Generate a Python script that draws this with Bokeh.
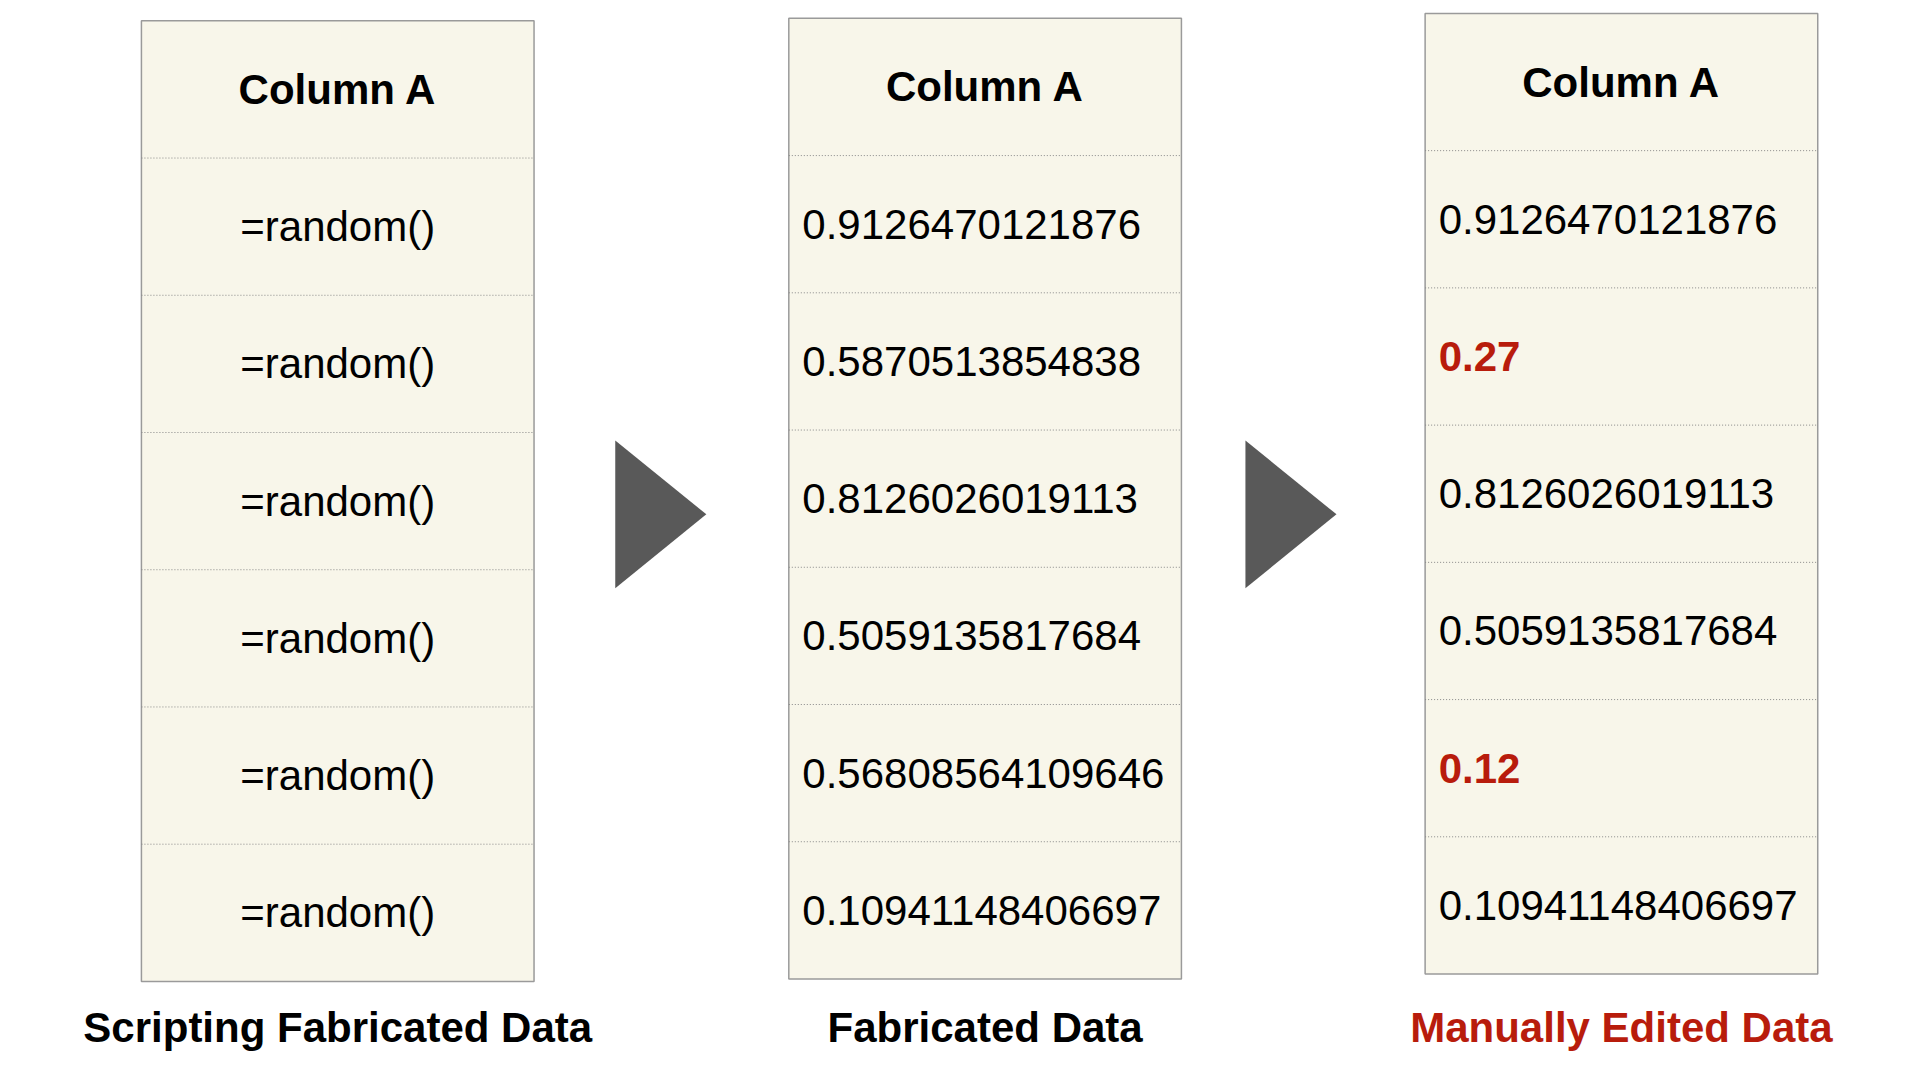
from bokeh.plotting import figure
from bokeh.models import Range1d, ColumnDataSource
from bokeh.core.properties import value
from bokeh.embed import file_html
from bokeh.resources import INLINE

header = "Column A"
col1 = ["=random()"] * 6
col2 = ["0.9126470121876", "0.5870513854838", "0.8126026019113",
        "0.5059135817684", "0.56808564109646", "0.10941148406697"]
col3 = ["0.9126470121876", "0.27", "0.8126026019113",
        "0.5059135817684", "0.12", "0.10941148406697"]
edited = [False, True, False, False, True, False]
labels = ["Scripting Fabricated Data", "Fabricated Data", "Manually Edited Data"]
label_colors = ["#000000", "#000000", "#b81c0c"]

p = figure(width=1904, height=1064, output_backend="svg", toolbar_location=None,
           x_range=Range1d(6.5, 1553.5), y_range=Range1d(871, 6.5), min_border=0)
p.axis.visible = False
p.grid.visible = False
p.outline_line_color = None

tables = [(121, 23, col1, "center"), (647, 21, col2, "left"), (1164, 17, col3, "left")]
tw, rh = 319, 111.5
font = value("Liberation Sans")
fs = "42px"
for ti, (x0, y0, cells, align) in enumerate(tables):
    p.quad(left=[x0], right=[x0 + tw], top=[y0], bottom=[y0 + rh * 7],
           fill_color="#f8f6ea", line_color="#9a9a9a", line_width=1.5)
    for r in range(1, 7):
        p.line([x0, x0 + tw], [y0 + rh * r] * 2, line_color="#888888",
               line_dash="1 2", line_width=1)
    p.text([x0 + tw / 2], [y0 + rh / 2], text=[header], text_font=font,
           text_font_style="bold", text_font_size=fs, text_align="center",
           text_baseline="middle", text_color="#000000")
    xs = [x0 + tw / 2 if align == "center" else x0 + 11] * 6
    ys = [y0 + rh * (i + 1.5) for i in range(6)]
    colors = ["#b81c0c" if (ti == 2 and edited[i]) else "#000000" for i in range(6)]
    styles = ["bold" if (ti == 2 and edited[i]) else "normal" for i in range(6)]
    src = ColumnDataSource(dict(x=xs, y=ys, t=cells, c=colors, s=styles))
    p.text("x", "y", text="t", source=src, text_font=font, text_font_size=fs,
           text_align=align, text_baseline="middle", text_color="c", text_font_style="s")
    p.text([x0 + tw / 2], [841], text=[labels[ti]], text_font=font,
           text_font_style="bold", text_font_size=fs, text_align="center",
           text_baseline="middle", text_color=label_colors[ti])

for tx in [506, 1018]:
    p.patch([tx, tx, tx + 74], [364, 484, 424], fill_color="#595959", line_color=None)

open("out.html", "w").write(file_html(p, INLINE))
